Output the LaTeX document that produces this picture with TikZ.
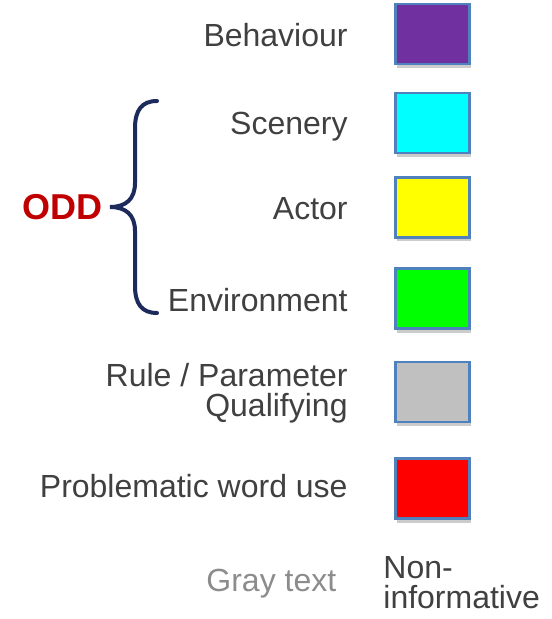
\documentclass[tikz,border=0pt]{standalone}
\usepackage{fontspec}
\setmainfont{Liberation Sans}
\usetikzlibrary{shadows}
\definecolor{txt}{HTML}{404040}
\definecolor{graytxt}{HTML}{8C8C8C}
\definecolor{oddred}{HTML}{C00000}
\definecolor{bracecol}{HTML}{1C2A5C}
\definecolor{boxline}{HTML}{4F81BD}
\definecolor{cpurple}{HTML}{7030A0}
\definecolor{ccyan}{HTML}{00FFFF}
\definecolor{cyellow}{HTML}{FFFF00}
\definecolor{cgreen}{HTML}{00FF00}
\definecolor{cgray}{HTML}{C0C0C0}
\definecolor{cred}{HTML}{FF0000}
\begin{document}
\begin{tikzpicture}[x=0.5pt,y=-0.5pt,
  lbl/.style={anchor=base east,inner sep=0pt,text=txt,font=\fontsize{16}{15}\selectfont,align=right},
  swatch/.style={draw=boxline,line width=1.1pt,minimum width=37pt,minimum height=30pt,inner sep=0pt,
    drop shadow={shadow xshift=0.6pt,shadow yshift=-2pt,opacity=0.2,fill=black}},
]
\useasboundingbox (0,0) rectangle (551,619);
% swatches
\node[swatch,fill=cpurple] (b1) at (432.5,34) {};
\node[swatch,fill=ccyan]   (b2) at (432.5,123) {};
\node[swatch,fill=cyellow] (b3) at (432.5,207.5) {};
\node[swatch,fill=cgreen]  (b4) at (432.5,298.5) {};
\node[swatch,fill=cgray]   (b5) at (432.5,392) {};
\node[swatch,fill=cred]    (b6) at (432.5,488.5) {};
% labels
\node[lbl] (t1) at (348,47) {Behaviour};
\node[lbl] (t2) at (348,135) {Scenery};
\node[lbl] (t3) at (348,220) {Actor};
\node[lbl] (t4) at (348,312) {Environment};
\node[lbl] (t5) at (348,416) {Rule / Parameter\\Qualifying};
\node[lbl] (t6) at (348,497) {Problematic word use};
\node[lbl,text=graytxt,anchor=base west] (t7) at (206,591) {Gray text};
\node[lbl,anchor=base west,align=left] (t8) at (383,608) {Non-\\informative};
% ODD and brace
\node[anchor=base east,inner sep=0pt,text=oddred,font=\fontsize{18}{20}\selectfont\bfseries] (odd) at (103,220) {ODD};
\coordinate (tip) at (110,207);
\draw[bracecol,line width=2pt,line cap=round]
  (157,101) .. controls (142,101) and (135,110) .. (135,128) -- (135,183)
  .. controls (135,199) and (126,207) .. (tip)
  .. controls (126,207) and (135,215) .. (135,231) -- (135,286)
  .. controls (135,304) and (142,313) .. (157,313);
\end{tikzpicture}
\end{document}
